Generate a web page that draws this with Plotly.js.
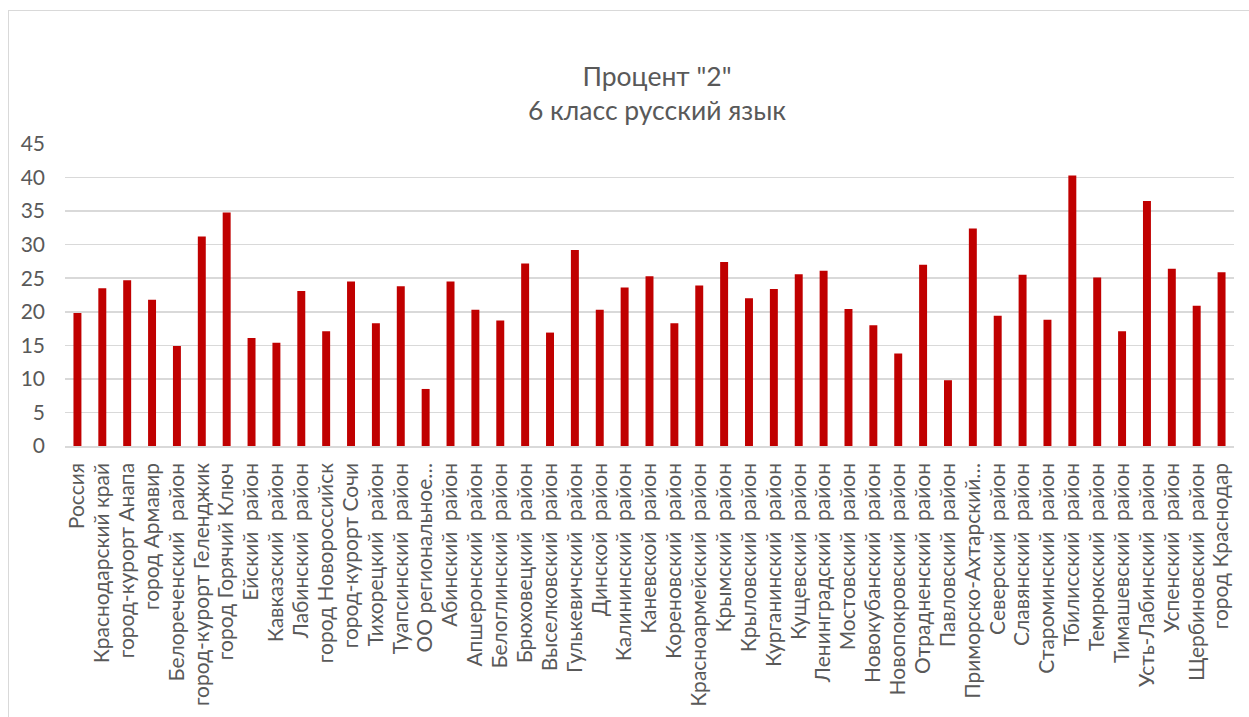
<!DOCTYPE html>
<html>
<head>
<meta charset="utf-8">
<script src="https://cdn.plot.ly/plotly-3.0.1.min.js"></script>
<style>
html,body{margin:0;padding:0;overflow:hidden;background:#fff;}
#frame{position:absolute;left:8px;top:10px;width:1400px;height:900px;border:1px solid #d9d9d9;box-sizing:border-box;}
#chart{position:absolute;left:0;top:0;width:1249px;height:717px;}
</style>
</head>
<body>
<div id="frame"></div>
<div id="chart"></div>
<script>
const categories = [
  "Россия", "Краснодарский край", "город-курорт Анапа", "город Армавир",
  "Белореченский\u00a0 район", "город-курорт Геленджик", "город Горячий Ключ",
  "Ейский\u00a0 район", "Кавказский\u00a0 район", "Лабинский\u00a0 район",
  "город Новороссийск", "город-курорт Сочи", "Тихорецкий\u00a0 район",
  "Туапсинский\u00a0 район", "ОО региональное…", "Абинский\u00a0 район",
  "Апшеронский\u00a0 район", "Белоглинский\u00a0 район", "Брюховецкий\u00a0 район",
  "Выселковский\u00a0 район", "Гулькевичский\u00a0 район", "Динской\u00a0 район",
  "Калининский\u00a0 район", "Каневской\u00a0 район", "Кореновский\u00a0 район",
  "Красноармейский\u00a0 район", "Крымский\u00a0 район", "Крыловский\u00a0 район",
  "Курганинский\u00a0 район", "Кущевский\u00a0 район", "Ленинградский\u00a0 район",
  "Мостовский\u00a0 район", "Новокубанский\u00a0 район", "Новопокровский\u00a0 район",
  "Отрадненский\u00a0 район", "Павловский\u00a0 район", "Приморско-Ахтарский…",
  "Северский\u00a0 район", "Славянский\u00a0 район", "Староминский\u00a0 район",
  "Тбилисский\u00a0 район", "Темрюкский\u00a0 район", "Тимашевский\u00a0 район",
  "Усть-Лабинский\u00a0 район", "Успенский\u00a0 район", "Щербиновский\u00a0 район",
  "город Краснодар"
];
const percent2 = [
  19.8, 23.5, 24.7, 21.8, 14.9, 31.2, 34.8, 16.1, 15.4, 23.1,
  17.1, 24.5, 18.3, 23.8, 8.5, 24.5, 20.3, 18.7, 27.2, 16.9,
  29.2, 20.3, 23.6, 25.3, 18.3, 23.9, 27.4, 22.0, 23.4, 25.6,
  26.1, 20.4, 18.0, 13.8, 27.0, 9.8, 32.4, 19.4, 25.5, 18.8,
  40.3, 25.1, 17.1, 36.5, 26.4, 20.9, 25.9
];
const yTicks = [0, 5, 10, 15, 20, 25, 30, 35, 40, 45];
const titleLines = ['Процент "2"', '6 класс русский язык'];

const fontFamily = 'Lato, "Open Sans", sans-serif';
const grey = '#595959';

Plotly.newPlot('chart', [{
  type: 'bar',
  x: categories,
  y: percent2,
  marker: {color: '#c00000', line: {width: 0}},
  hoverinfo: 'x+y'
}], {
  width: 1249, height: 717,
  paper_bgcolor: 'rgba(0,0,0,0)',
  plot_bgcolor: 'rgba(0,0,0,0)',
  margin: {l: 65, r: 15, t: 144, b: 271},
  bargap: 0.68,
  showlegend: false,
  title: {
    text: titleLines.join('<br>'),
    x: 0.526, xref: 'container', xanchor: 'center',
    y: 0.88, yref: 'container', yanchor: 'top',
    font: {family: fontFamily, size: 26.5, color: grey}
  },
  xaxis: {
    type: 'category',
    tickmode: 'array',
    tickvals: categories,
    ticktext: categories,
    tickangle: -90,
    tickfont: {family: fontFamily, size: 21, color: grey},
    showgrid: false,
    showline: true, linecolor: '#d9d9d9', linewidth: 1.5,
    ticks: '',
    ticklabelstandoff: 7,
    automargin: false
  },
  yaxis: {
    range: [0, 45],
    tickvals: yTicks,
    ticktext: yTicks.map(String),
    tickfont: {family: fontFamily, size: 21, color: grey},
    showgrid: true, gridcolor: '#d9d9d9', gridwidth: 1.5,
    zeroline: false,
    showline: false,
    ticks: '',
    ticklabelstandoff: 19,
    automargin: false
  }
}, {displayModeBar: false, staticPlot: true});
</script>
</body>
</html>
